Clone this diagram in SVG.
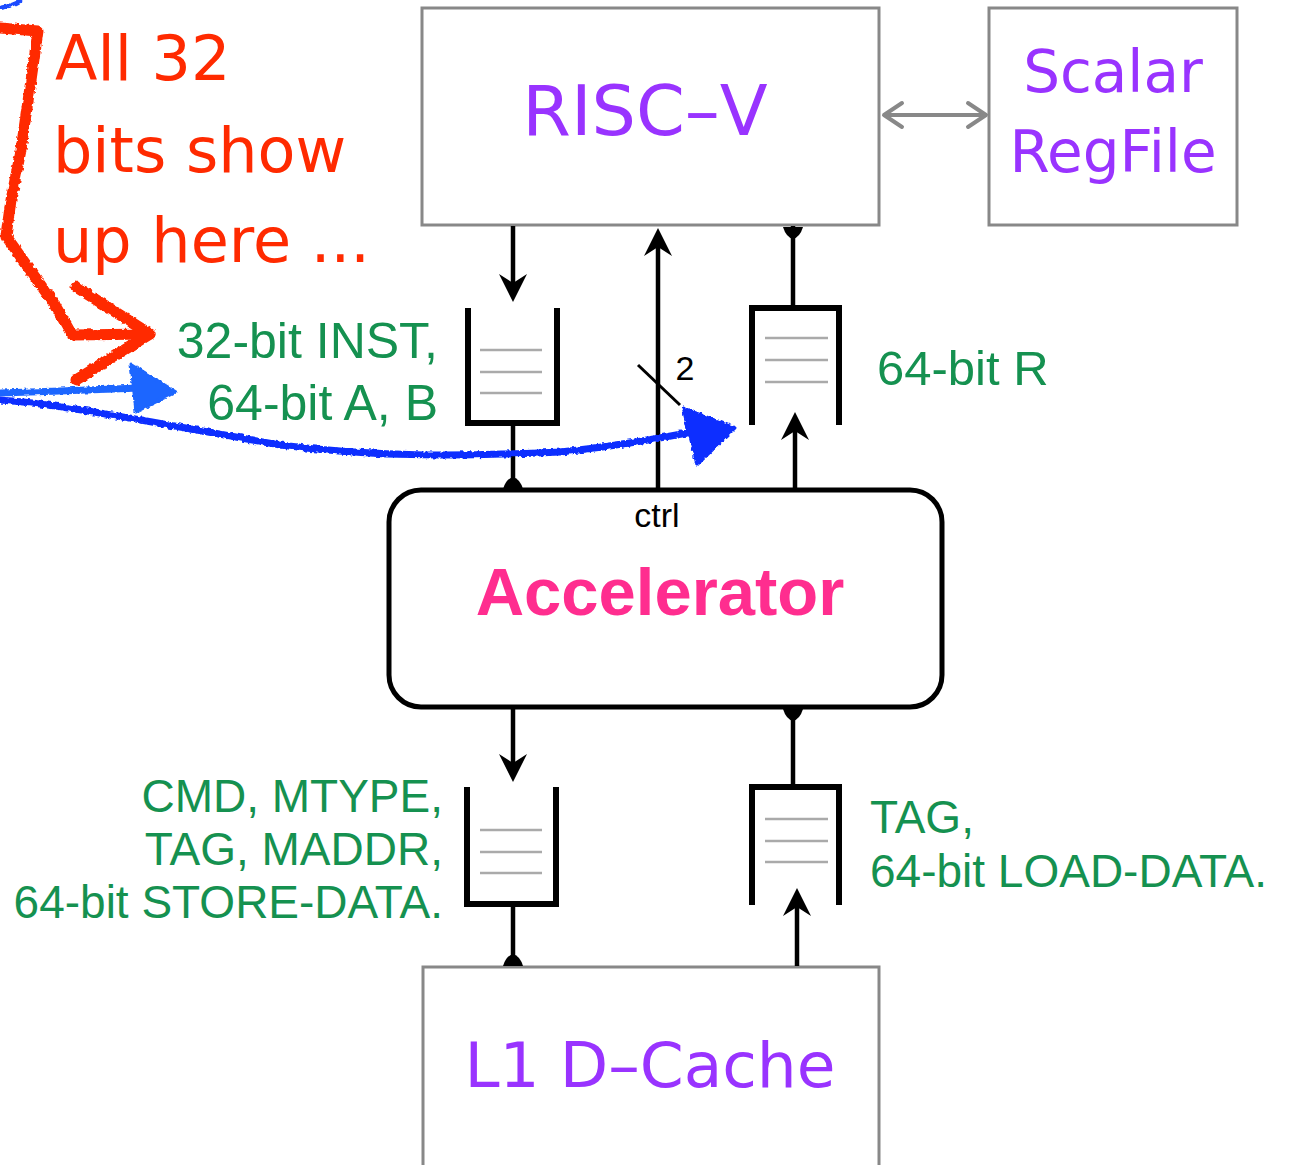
<svg xmlns="http://www.w3.org/2000/svg" width="1289" height="1165" viewBox="0 0 1289 1165">
<style>
.box{fill:#fff;stroke:#888;stroke-width:3}
.acc{fill:#fff;stroke:#000;stroke-width:5}
.purple{font-family:"DejaVu Sans",sans-serif;fill:#9933ff;text-anchor:middle}
.green{font-family:"Liberation Sans",Arial,sans-serif;fill:#159150}
.wire{stroke:#000;stroke-width:4.5;fill:none}
.fifo{stroke:#000;stroke-width:6;fill:none;stroke-linejoin:miter}
.slot{stroke:#aaa;stroke-width:2.5}
.red{stroke:#ff2a00;stroke-width:11;fill:none;stroke-linecap:round;stroke-linejoin:round}
.redt{font-family:"DejaVu Sans",sans-serif;fill:#ff2a00;font-size:62px}
</style>
<defs>
<marker id="ah" markerUnits="userSpaceOnUse" markerWidth="28" markerHeight="28" viewBox="0 0 28 28" refX="17" refY="14" orient="auto">
<path d="M0,0 L28,14 L0,28 L9,14 z" fill="#000"/>
</marker>
<marker id="open" markerUnits="userSpaceOnUse" markerWidth="30" markerHeight="30" viewBox="0 0 30 30" refX="26" refY="15" orient="auto-start-reverse">
<path d="M8,3 L26,15 L8,27" fill="none" stroke="#888" stroke-width="4" stroke-linecap="round" stroke-linejoin="round"/>
</marker>
<filter id="rough" x="-5%" y="-5%" width="110%" height="110%">
<feTurbulence type="fractalNoise" baseFrequency="0.25" numOctaves="2" seed="3"/>
<feDisplacementMap in="SourceGraphic" scale="4" xChannelSelector="R" yChannelSelector="G"/>
</filter>
</defs>

<g id="risc-v">
<rect class="box" x="422" y="8" width="457" height="217"/>
<text class="purple" x="645" y="135" font-size="70">RISC–V</text>
</g>
<g id="scalar-regfile">
<rect class="box" x="989" y="8" width="248" height="217"/>
<text class="purple" x="1113" y="92" font-size="58">Scalar</text>
<text class="purple" x="1113" y="172" font-size="58">RegFile</text>
</g>
<g id="accelerator">
<rect class="acc" x="389" y="490" width="553" height="217" rx="32"/>
<text x="657" y="527" font-family="Liberation Sans,Arial,sans-serif" font-size="34" text-anchor="middle" fill="#000">ctrl</text>
<text x="660" y="615" font-family="Liberation Sans,Arial,sans-serif" font-size="67" font-weight="bold" text-anchor="middle" fill="#ff2d8f">Accelerator</text>
</g>
<g id="l1-dcache">
<rect class="box" x="423" y="967" width="456" height="210"/>
<text class="purple" x="650" y="1087" font-size="63">L1 D–Cache</text>
</g>

<g id="fifo-inst">
<path class="fifo" d="M468,308 V423 H557 V308"/>
<line class="slot" x1="480" y1="350" x2="542" y2="350"/>
<line class="slot" x1="480" y1="372" x2="542" y2="372"/>
<line class="slot" x1="480" y1="393" x2="542" y2="393"/>
</g>
<g id="fifo-resp">
<path class="fifo" d="M752,425 V308 H839 V425"/>
<line class="slot" x1="765" y1="338" x2="828" y2="338"/>
<line class="slot" x1="765" y1="360" x2="828" y2="360"/>
<line class="slot" x1="765" y1="382" x2="828" y2="382"/>
</g>
<g id="fifo-memreq">
<path class="fifo" d="M467,787 V904 H556 V787"/>
<line class="slot" x1="480" y1="830" x2="542" y2="830"/>
<line class="slot" x1="480" y1="852" x2="542" y2="852"/>
<line class="slot" x1="480" y1="873" x2="542" y2="873"/>
</g>
<g id="fifo-memresp">
<path class="fifo" d="M752,905 V787 H839 V905"/>
<line class="slot" x1="765" y1="819" x2="828" y2="819"/>
<line class="slot" x1="765" y1="841" x2="828" y2="841"/>
<line class="slot" x1="765" y1="862" x2="828" y2="862"/>
</g>

<g id="connectors">
<line x1="884" y1="115" x2="986" y2="115" stroke="#888" stroke-width="4" marker-start="url(#open)" marker-end="url(#open)"/>
<line class="wire" x1="513" y1="226" x2="513" y2="291" marker-end="url(#ah)"/>
<line class="wire" x1="513" y1="423" x2="513" y2="489"/>
<path d="M503,489 Q506,479 513,477 Q520,479 523,489 z" fill="#000"/>
<line class="wire" x1="658" y1="489" x2="658" y2="239" marker-end="url(#ah)"/>
<line x1="638" y1="365" x2="680" y2="405" stroke="#000" stroke-width="3"/>
<text x="685" y="380" font-family="Liberation Sans,Arial,sans-serif" font-size="34" text-anchor="middle" fill="#000">2</text>
<line class="wire" x1="793" y1="226" x2="793" y2="308"/>
<path d="M783,227 Q786,237 793,239 Q800,237 803,227 z" fill="#000"/>
<line class="wire" x1="795" y1="489" x2="795" y2="423" marker-end="url(#ah)"/>
<line class="wire" x1="513" y1="708" x2="513" y2="771" marker-end="url(#ah)"/>
<line class="wire" x1="513" y1="904" x2="513" y2="966"/>
<path d="M503,966 Q506,956 513,954 Q520,956 523,966 z" fill="#000"/>
<line class="wire" x1="793" y1="708" x2="793" y2="787"/>
<path d="M783,709 Q786,719 793,721 Q800,719 803,709 z" fill="#000"/>
<line class="wire" x1="797" y1="966" x2="797" y2="899" marker-end="url(#ah)"/>
</g>

<g id="labels">
<text class="green" x="438" y="358" font-size="50" text-anchor="end">32-bit INST,</text>
<text class="green" x="438" y="420" font-size="50" text-anchor="end">64-bit A, B</text>
<text class="green" x="877" y="385" font-size="49">64-bit R</text>
<text class="green" x="443" y="812" font-size="46" text-anchor="end">CMD, MTYPE,</text>
<text class="green" x="443" y="865" font-size="46" text-anchor="end">TAG, MADDR,</text>
<text class="green" x="443" y="918" font-size="46" text-anchor="end">64-bit STORE-DATA.</text>
<text class="green" x="870" y="833" font-size="46">TAG,</text>
<text class="green" x="870" y="887" font-size="46">64-bit LOAD-DATA.</text>
</g>

<g id="annotation">
<text class="redt" x="55" y="80">All 32</text>
<text class="redt" x="53" y="172">bits show</text>
<text class="redt" x="53" y="262">up here ...</text>
<g filter="url(#rough)">
<path class="red" d="M0,28 L38,31 L31,80 L21,150 L11,200 L6,236 L30,270 L55,305 L72,335 L150,334"/>
<path class="red" d="M76,287 L150,334 L76,380"/>
<path d="M0,8 Q12,6 22,0" fill="none" stroke="#1a4cff" stroke-width="4"/>
<path d="M0,393 L60,391 L140,388" fill="none" stroke="#1e66ff" stroke-width="7" stroke-linecap="round"/>
<path d="M131,364 L176,392 L136,412 z" fill="#1e66ff" stroke="#1e66ff" stroke-width="3" stroke-linejoin="round"/>
<path d="M0,400 C60,404 140,420 280,445 C380,458 470,456 560,452 C620,446 660,438 692,432" fill="none" stroke="#0a2eff" stroke-width="7" stroke-linecap="round"/>
<path d="M683,408 L735,428 L697,465 z" fill="#0a2eff" stroke="#0a2eff" stroke-width="3" stroke-linejoin="round"/>
</g>
</g>
</svg>
